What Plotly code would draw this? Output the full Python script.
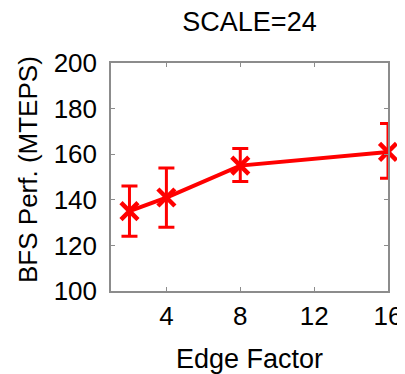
import plotly.graph_objects as go

edge_factor = [2, 4, 8, 16]
bfs_perf = [135, 141, 155, 161]
perf_high = [146, 154, 162.5, 173.5]
perf_low = [124, 128, 148, 149.5]
x_ticks = [4, 8, 12, 16]
y_ticks = [100, 120, 140, 160, 180, 200]

err_plus = [h - v for h, v in zip(perf_high, bfs_perf)]
err_minus = [v - l for l, v in zip(perf_low, bfs_perf)]

FONT = "Liberation Sans, Arial, sans-serif"
RED = "#ff0000"
GRAY = "#8c8c8c"

# page body has an 8px default margin; figure sized to fit the 405x374 window
W, H = 397, 366

fig = go.Figure()
fig.add_trace(go.Scatter(
    x=edge_factor, y=bfs_perf,
    mode="lines+markers",
    line=dict(color=RED, width=4),
    marker=dict(symbol="x-thin", size=17, color=RED, line=dict(color=RED, width=4.5)),
    error_y=dict(type="data", symmetric=False, array=err_plus, arrayminus=err_minus,
                 color=RED, thickness=3, width=8),
    cliponaxis=False,
    showlegend=False,
))

axis_common = dict(
    showline=True, linecolor=GRAY, linewidth=1.5, mirror="ticks",
    ticks="inside", ticklen=4, tickcolor=GRAY, tickwidth=1,
    showgrid=False, zeroline=False, automargin=False,
    tickfont=dict(family=FONT, size=26, color="black"),
)

fig.update_layout(
    width=W, height=H,
    margin=dict(l=103, r=17, t=55, b=83),
    paper_bgcolor="white", plot_bgcolor="white",
    font=dict(family=FONT, color="black"),
    title=dict(text="SCALE=24", font=dict(family=FONT, size=27, color="black"),
               x=0.5, xref="paper", xanchor="center",
               y=1 - 14 / H, yref="container", yanchor="middle", automargin=False),
    xaxis=dict(range=[1, 16], tickvals=x_ticks,
               title=dict(text="Edge Factor", font=dict(family=FONT, size=27), standoff=21),
               ticklabelstandoff=1, **axis_common),
    yaxis=dict(range=[100, 200], tickvals=y_ticks, ticklabelstandoff=7, **axis_common),
    annotations=[dict(text="BFS Perf. (MTEPS)", textangle=-90,
                      xref="paper", yref="paper", x=(28 - 111) / 277, y=(291 - 170) / 228,
                      xanchor="center", yanchor="middle", showarrow=False,
                      font=dict(family=FONT, size=26, color="black"))],
)

fig.write_html("out.html")
